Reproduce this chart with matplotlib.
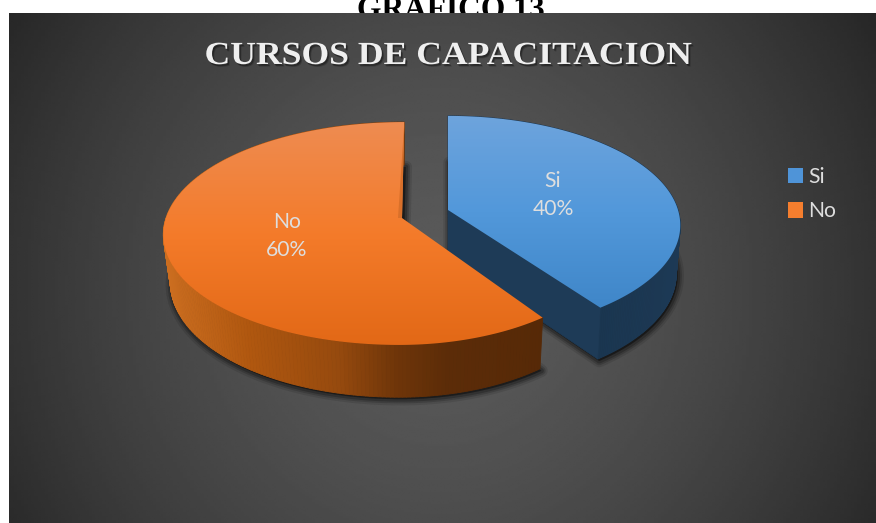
import numpy as np
import matplotlib
matplotlib.use("Agg")
import matplotlib.pyplot as plt
from matplotlib.collections import PolyCollection
from matplotlib.colors import LinearSegmentedColormap, to_rgb
from matplotlib.patches import Patch, Polygon
from matplotlib.transforms import Affine2D
import matplotlib.patheffects as pe

# ---- data ----
categories = ["Si", "No"]
values = [40, 60]
title = "CURSOS DE CAPACITACION"
heading = "GRAFICO 13"

# ---- style and view geometry (pixels of the figure) ----
W, H = 876, 523
K = -0.139
slices = {
    "Si": dict(xc=448, dx=0, y0=210, b=78, a_l=230, a_r=230, dy0=258, db=75, da_l=226, da_r=226,
               top=["#6ea4dd", "#5298da", "#3f86c8"], leg="#4f94d8",
               side=[(440, "#1f3b57"), (600, "#1a3650"), (690, "#1d3a56")], label=(553, 195)),
    "No": dict(xc=421, dx=-19, y0=218, b=79, a_l=236, a_r=216, dy0=265, db=77, da_l=229, da_r=212,
               top=["#ee8c52", "#f47b2a", "#e26816"], leg="#f57e2e",
               side=[(165, "#cc6e20"), (250, "#b0570f"), (340, "#964a0e"), (400, "#6e3509"),
                     (450, "#5c2c08"), (550, "#562907")], label=(287, 236)),
}


class StretchedShadow(pe.AbstractPathEffect):
    """Widen the text about its middle and draw it over a soft drop shadow."""

    def __init__(self, sx):
        super().__init__()
        self.sx = sx

    def draw_path(self, renderer, gc, tpath, affine, rgbFace=None):
        ext = tpath.get_extents()
        mid = (ext.x0 + ext.x1) / 2
        wide = Affine2D().translate(-mid, 0).scale(self.sx, 1).translate(mid, 0) + affine
        for off, al in [((2.2, -2.6), 0.18), ((1.4, -1.8), 0.32)]:
            g = renderer.new_gc()
            g.copy_properties(gc)
            g.set_alpha(al)
            g.set_linewidth(0)
            renderer.draw_path(g, tpath, wide + Affine2D().translate(*off), (0, 0, 0))
            g.restore()
        renderer.draw_path(gc, tpath, wide, rgbFace)


def project(s, t, lower=False):
    u, v = np.sin(t), -np.cos(t)
    a = np.where(u < 0, s["da_l"] if lower else s["a_l"], s["da_r"] if lower else s["a_r"])
    y0, b = (s["dy0"], s["db"]) if lower else (s["y0"], s["b"])
    den = 1 + K * v
    return np.column_stack([s["xc"] + (s["dx"] + a * u) / den, (y0 + b * v) / den])


def apex(s, lower=False):
    return np.array([s["xc"] + s["dx"], s["dy0"] if lower else s["y0"]], float)


fig = plt.figure(figsize=(W / 100, H / 100), dpi=100, facecolor="white")
ax = fig.add_axes([0, 0, 1, 1])
ax.axis("off")

# heading cut by the top of the page, behind the dark panel
ax.text(451, 18, heading, family="Liberation Serif", weight="bold", fontsize=22.7,
        ha="center", va="baseline", color="black", zorder=0)

# panel background
yy, xx = np.mgrid[13:H:256j, 9:W:256j]
d = np.hypot((xx - 440) / 440, (yy - 290) / 450)
grey = np.clip(90 - 40 * d ** 1.6, 38, 90) / 255
ax.imshow(grey, cmap="gray", vmin=0, vmax=1, extent=(9, W, H, 13), aspect="auto", zorder=1,
          interpolation="bilinear")

# slices
frac = np.cumsum([0] + values) / sum(values) * 2 * np.pi
zo = 2
for cat, val, t0, t1 in zip(categories, values, frac[:-1], frac[1:]):
    s = slices[cat]
    t = np.linspace(t0, t1, 241)
    top_rim = project(s, t)
    low_rim = project(s, t, lower=True)
    top_poly = np.vstack([apex(s), top_rim])
    low_poly = np.vstack([apex(s, True), low_rim])

    # soft shadow of the lower outline
    for lw, al in [(9, 0.10), (6, 0.16), (3.5, 0.22)]:
        ax.add_patch(Polygon(low_poly + [1.5, 2], closed=True, fc="black", ec="black",
                             lw=lw, alpha=al, joinstyle="round", zorder=zo))
    zo += 1

    # side wall
    order = np.argsort(-np.cos(t[:-1]))
    quads, cols = [], []
    xs, cs = zip(*s["side"])
    rgb = np.array([to_rgb(c) for c in cs])
    for i in order:
        quads.append([top_rim[i], top_rim[i + 1], low_rim[i + 1], low_rim[i]])
        xm = top_rim[i, 0]
        cols.append([np.interp(xm, xs, rgb[:, j]) for j in range(3)])
    ax.add_collection(PolyCollection(quads, facecolors=cols, edgecolors=cols, linewidths=0.6, zorder=zo))
    zo += 1

    # visible cut face
    if cat == "Si":
        face = [apex(s), top_rim[-1], low_rim[-1], apex(s, True)]
        ax.add_patch(Polygon(face, closed=True, fc="#1e3b57", ec="#1e3b57", lw=0.5, zorder=zo))
    else:
        strip = [top_rim[-1], apex(s), apex(s) + [-4, 0]]
    zo += 1

    # gradient top surface
    cmap = LinearSegmentedColormap.from_list(cat, s["top"])
    ymin, ymax = top_poly[:, 1].min(), top_poly[:, 1].max()
    grad = np.linspace(0, 1, 256).reshape(-1, 1)
    im = ax.imshow(grad, cmap=cmap, extent=(top_poly[:, 0].min() - 2, top_poly[:, 0].max() + 2, ymax + 2, ymin - 2),
                   aspect="auto", zorder=zo)
    im.set_clip_path(Polygon(top_poly, closed=True, transform=ax.transData))
    zo += 1
    if cat == "No":
        ax.add_patch(Polygon(strip, closed=True, fc="#d9702a", ec="none", zorder=zo))
        zo += 1

    ax.text(*s["label"], f"{cat}\n{val}%", family="Lato", fontsize=15.2, color="#dedede",
            ha="center", va="center", linespacing=1.45, zorder=30)

# title
ax.text(449, 64, title, family="Liberation Serif", weight="bold", fontsize=23.2,
        color="#efefef", ha="center", va="baseline", zorder=30,
        path_effects=[StretchedShadow(1.105)])

# legend
handles = [Patch(fc=slices[c]["leg"], ec="none", label=c) for c in categories]
leg = ax.legend(handles=handles, loc="upper left", bbox_to_anchor=(788, 167), bbox_transform=ax.transData,
                frameon=False, prop={"family": "Lato", "size": 15.2}, labelcolor="#dedede",
                borderpad=0, borderaxespad=0, handlelength=0.72, handleheight=0.72,
                handletextpad=0.25, labelspacing=0.68)
leg.set_zorder(30)

ax.set_xlim(0, W)
ax.set_ylim(H, 0)
fig.savefig("out.png", dpi=100, facecolor="white")
